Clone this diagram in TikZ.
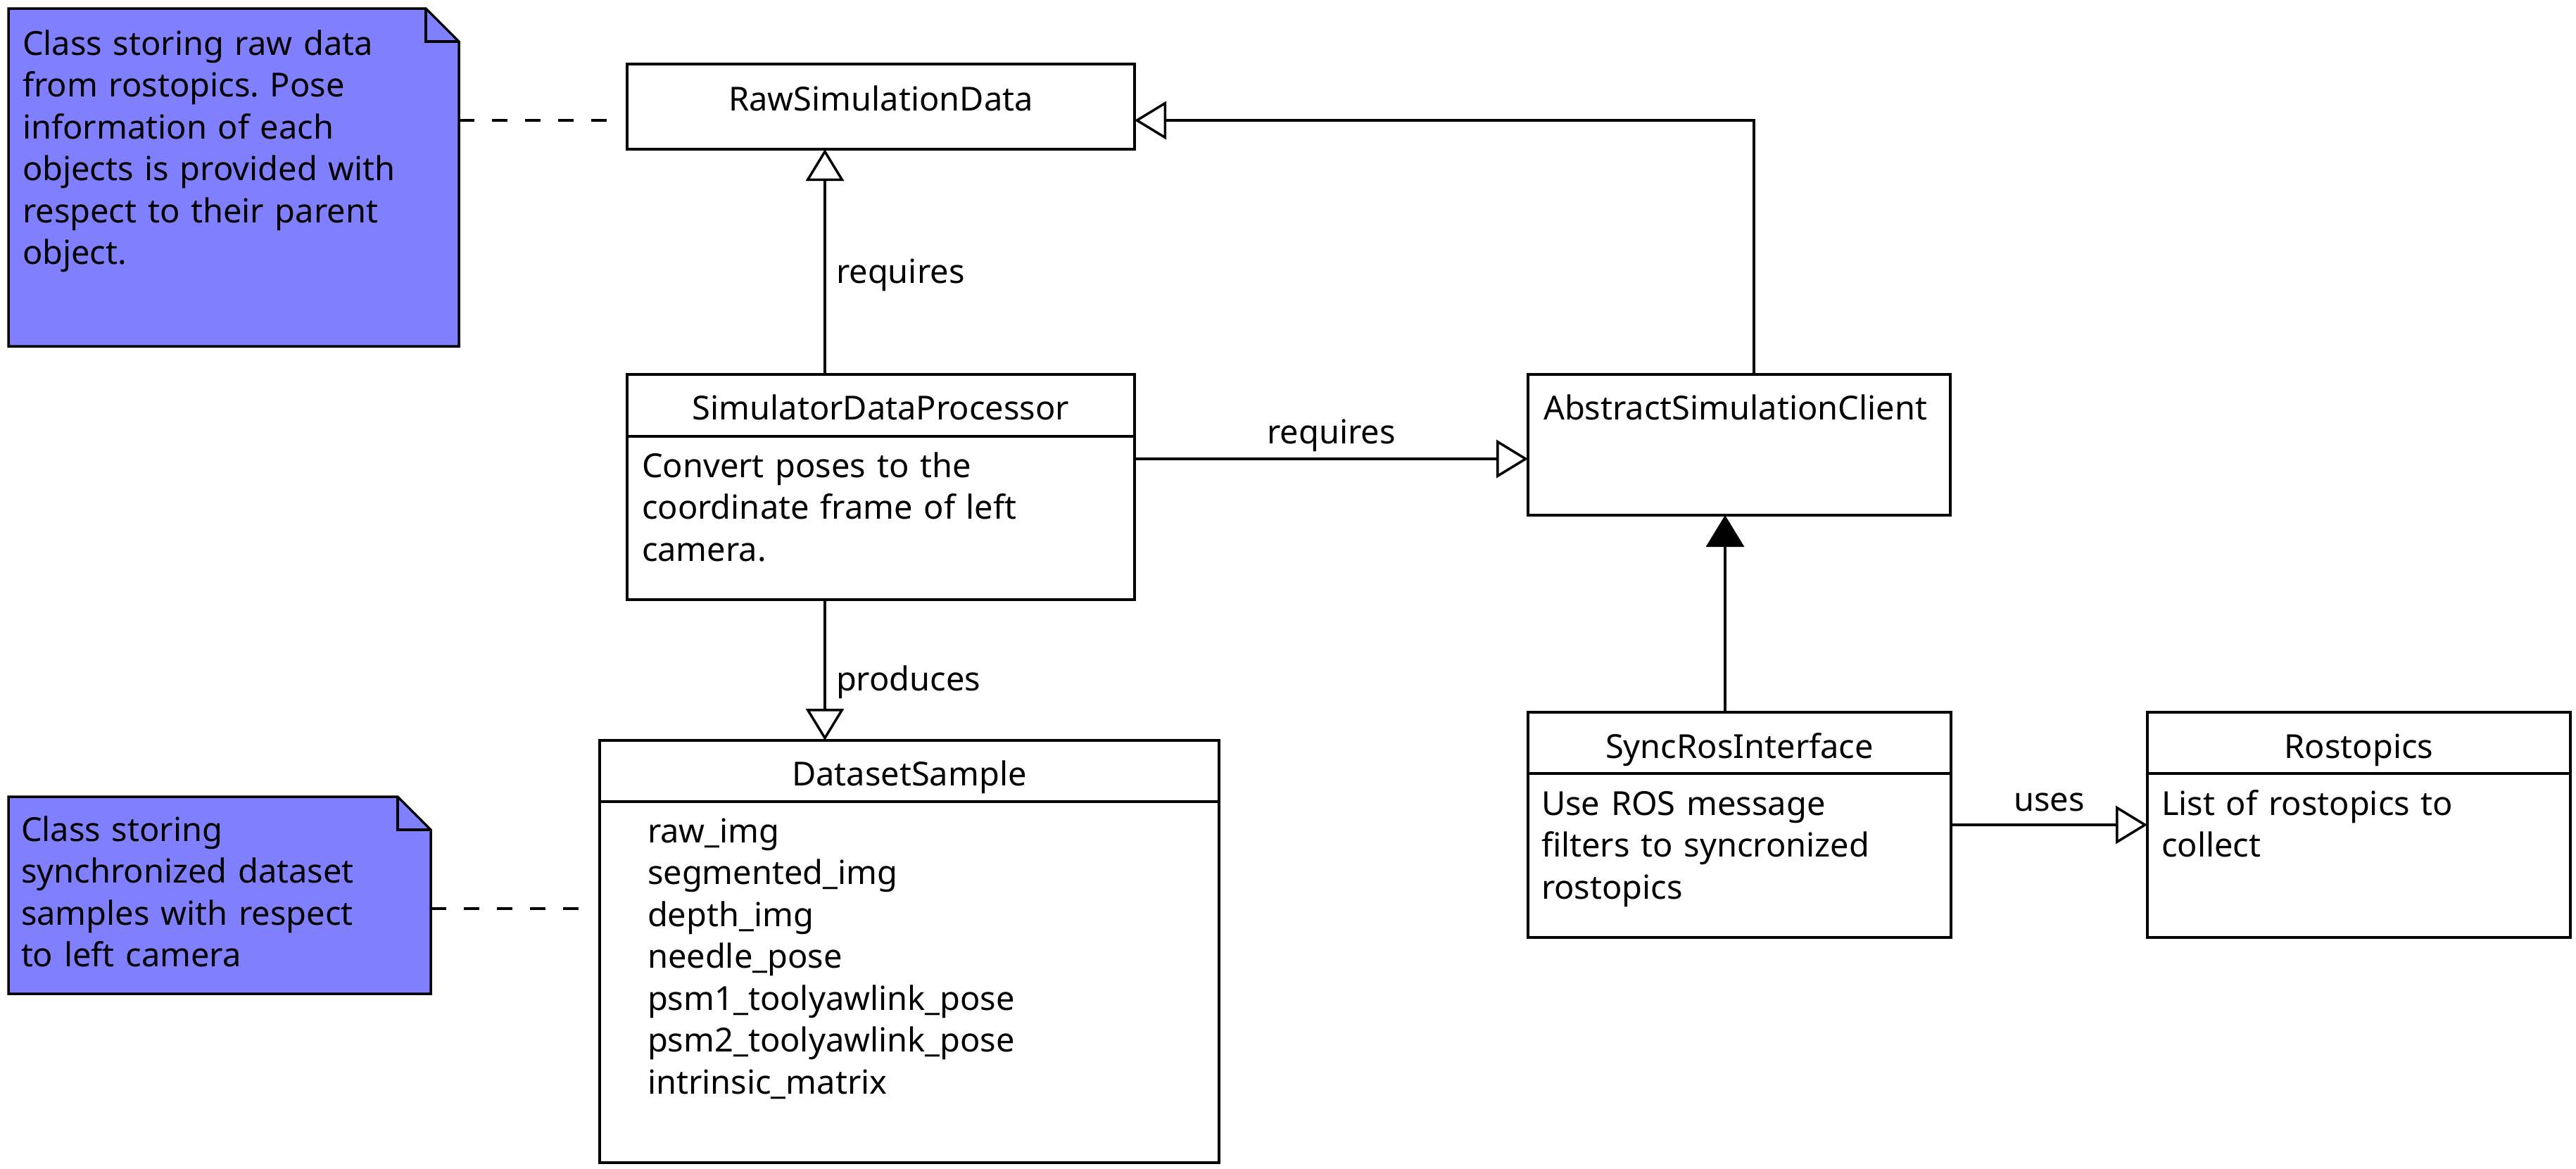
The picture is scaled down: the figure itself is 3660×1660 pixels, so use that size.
\documentclass[tikz,border=0pt]{standalone}
\usepackage{fontspec}
\setmainfont{Noto Sans}
\usetikzlibrary{arrows.meta,calc}
\definecolor{notefill}{HTML}{8080FF}
\newcommand\umlfont{\fontsize{47}{59.5}\selectfont\frenchspacing}
\tikzset{
  classbox/.style={draw=black, line width=3.5pt, inner sep=0pt, outer sep=0pt, anchor=north west, fill=white},
  noteframe/.style={draw=none, inner sep=0pt, outer sep=0pt, anchor=north west},
  notepath/.style={draw=black, line width=3.5pt, fill=notefill, line join=miter},
  title/.style={font=\umlfont, inner sep=0pt, outer sep=0pt, anchor=base},
  bodytext/.style={font=\umlfont, inner sep=0pt, outer sep=0pt, anchor=base west, align=left, text width=#1},
  lbl/.style={font=\umlfont, inner sep=0pt, outer sep=0pt},
  conn/.style={draw=black, line width=3.5pt},
  gen/.style={conn, -{Triangle[open, length=45pt, width=54pt, line width=3.5pt]}},
  genfilled/.style={conn, -{Triangle[length=45pt, width=54pt, line width=3.5pt, fill=black]}},
  notelink/.style={draw=black, line width=3.5pt, dash pattern=on 22pt off 25pt},
  divider/.style={draw=black, line width=3.5pt}
}
\begin{document}
\begin{tikzpicture}[x=1pt,y=-1pt]
\useasboundingbox (0,0) rectangle (3660,1660);

% helper coordinates for connector lines
\coordinate (r1) at (0,171);
\coordinate (c1) at (1172,0);
\coordinate (c2) at (0,652);
\coordinate (c3) at (2492,0);
\coordinate (c4) at (2451,0);
\coordinate (c5) at (0,1172);
\coordinate (c6) at (0,1291);

% notes
\node[noteframe, minimum width=640pt, minimum height=480pt] (n1) at (12,12) {};
\path[notepath] (n1.north west) -- ($(n1.north east)+(-47,0)$) -- ($(n1.north east)+(0,47)$) -- (n1.south east) -- (n1.south west) -- cycle;
\draw[line width=3.5pt] ($(n1.north east)+(-47,0)$) -- ($(n1.north east)+(-47,47)$) -- ($(n1.north east)+(0,47)$);
\node[bodytext=600pt] (n1t) at (32,78) {Class storing raw data\\from rostopics. Pose\\information of each\\objects is provided with\\respect to their parent\\object.};

\node[noteframe, minimum width=600pt, minimum height=280pt] (n2) at (12,1132) {};
\path[notepath] (n2.north west) -- ($(n2.north east)+(-47,0)$) -- ($(n2.north east)+(0,47)$) -- (n2.south east) -- (n2.south west) -- cycle;
\draw[line width=3.5pt] ($(n2.north east)+(-47,0)$) -- ($(n2.north east)+(-47,47)$) -- ($(n2.north east)+(0,47)$);
\node[bodytext=560pt] (n2t) at (30,1195) {Class storing\\synchronized dataset\\samples with respect\\to left camera};

% classes
\node[classbox, minimum width=721pt, minimum height=121pt] (raw) at (891,91) {};
\node[title] (rawt) at (1251.5,157) {RawSimulationData};

\node[classbox, minimum width=721pt, minimum height=320pt] (sdp) at (891,532) {};
\node[title] (sdpt) at (1251.5,596) {SimulatorDataProcessor};
\draw[divider] (sdp.north west |- 0,620) -- (sdp.north east |- 0,620);
\node[bodytext=680pt] (sdpb) at (912,678) {Convert poses to the\\coordinate frame of left\\camera.};

\node[classbox, minimum width=600pt, minimum height=200pt] (asc) at (2171,532) {};
\node[title, anchor=base west] (asct) at (2193,596) {AbstractSimulationClient};

\node[classbox, minimum width=601pt, minimum height=320pt] (sync) at (2171,1012) {};
\node[title] (synct) at (2471.5,1077) {SyncRosInterface};
\draw[divider] (sync.north west |- 0,1099) -- (sync.north east |- 0,1099);
\node[bodytext=570pt] (syncb) at (2190,1158) {Use ROS message\\filters to syncronized\\rostopics};

\node[classbox, minimum width=601pt, minimum height=320pt] (ros) at (3051,1012) {};
\node[title] (rost) at (3351.5,1077) {Rostopics};
\draw[divider] (ros.north west |- 0,1099) -- (ros.north east |- 0,1099);
\node[bodytext=570pt] (rosb) at (3071,1158) {List of rostopics to\\collect};

\node[classbox, minimum width=880pt, minimum height=600pt] (ds) at (852,1052) {};
\node[title] (dst) at (1292,1116) {DatasetSample};
\draw[divider] (ds.north west |- 0,1139) -- (ds.north east |- 0,1139);
\node[bodytext=780pt] (dsb) at (920,1197) {raw\_img\\segmented\_img\\depth\_img\\needle\_pose\\psm1\_toolyawlink\_pose\\psm2\_toolyawlink\_pose\\intrinsic\_matrix};

% connectors
\draw[notelink, shorten >=21pt] (n1.east |- r1) -- (raw.west |- r1);
\draw[notelink, shorten >=22pt] (n2.east |- c6) -- (ds.west |- c6);

\draw[gen] (sdp.north -| c1) -- node[lbl, pos=0.44, anchor=west, xshift=16pt] (l1) {requires} (raw.south -| c1);
\draw[gen] (sdp.east |- c2) -- node[lbl, midway, anchor=base, yshift=22pt] (l2) {requires} (asc.west |- c2);
\draw[gen] (asc.north -| c3) |- (raw.east |- r1);
\draw[genfilled] (sync.north -| c4) -- (asc.south -| c4);
\draw[gen] (sdp.south -| c1) -- node[lbl, pos=0.585, anchor=west, xshift=16pt] (l3) {produces} (ds.north -| c1);
\draw[gen] (sync.east |- c5) -- node[lbl, midway, anchor=base, yshift=20pt] (l4) {uses} (ros.west |- c5);
\end{tikzpicture}
\end{document}
